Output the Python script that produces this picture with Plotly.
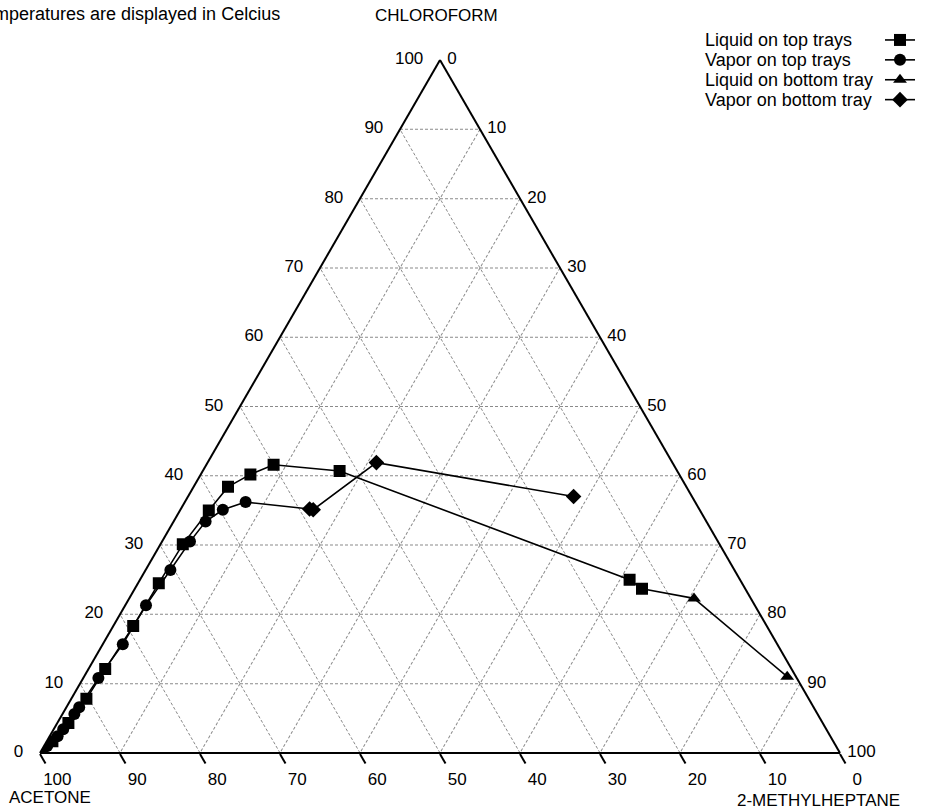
import plotly.graph_objects as go

# Compositions in percent: a = CHLOROFORM (top), b = ACETONE (bottom-left), c = 2-METHYLHEPTANE (bottom-right)
liq_top_chloroform = [0.2, 1.7, 4.3, 7.8, 12.1, 18.3, 24.5, 30.1, 35.0, 38.4, 40.2, 41.6, 40.7, 25.0, 23.7]
liq_top_acetone = [99.7, 97.6, 94.3, 90.3, 85.8, 79.2, 72.9, 67.1, 61.4, 57.3, 53.6, 50.0, 42.2, 13.8, 12.9]
liq_top_methylheptane = [0.1, 0.7, 1.4, 1.9, 2.1, 2.5, 2.6, 2.8, 3.6, 4.3, 6.2, 8.4, 17.1, 61.2, 63.4]

vap_top_chloroform = [0.2, 1.0, 2.4, 3.4, 5.6, 6.6, 10.8, 15.7, 21.3, 26.4, 30.5, 33.4, 35.1, 36.2]
vap_top_acetone = [99.6, 98.6, 96.6, 95.4, 92.9, 91.8, 87.3, 81.8, 76.1, 70.5, 66.0, 62.6, 59.6, 56.2]
vap_top_methylheptane = [0.2, 0.4, 1.0, 1.2, 1.5, 1.6, 1.9, 2.5, 2.6, 3.1, 3.5, 4.0, 5.3, 7.6]

liq_bot_chloroform = [22.3, 11.0]
liq_bot_acetone = [7.1, 1.1]
liq_bot_methylheptane = [70.6, 87.9]

vap_bot_chloroform = [35.2, 35.1, 41.9, 37.0]
vap_bot_acetone = [48.7, 48.3, 37.0, 14.8]
vap_bot_methylheptane = [16.1, 16.6, 21.1, 48.2]

series_names = ["Liquid on top trays", "Vapor on top trays",
                "Liquid on bottom tray", "Vapor on bottom tray"]
tick_vals = [0, 10, 20, 30, 40, 50, 60, 70, 80, 90, 100]
tick_text = [str(v) for v in tick_vals]
title_a = "CHLOROFORM"
title_b = "ACETONE"
title_c = "2-METHYLHEPTANE"
note_text = "Temperatures are displayed in Celcius"

W, H = 928, 811
ML, MR, MT, MB = 40, 88, 60, 58
PW, PH = W - ML - MR, H - MT - MB


def px(x):
    return (x - ML) / PW


def py(y):
    return (H - MB - y) / PH


FONT = "Liberation Sans, Arial, sans-serif"
LINE = dict(color="black", width=1.6)
NB = "\u00a0"

fig = go.Figure()

# connectors between top-tray and bottom-tray series
fig.add_trace(go.Scatterternary(
    a=[liq_top_chloroform[-1], liq_bot_chloroform[0]],
    b=[liq_top_acetone[-1], liq_bot_acetone[0]],
    c=[liq_top_methylheptane[-1], liq_bot_methylheptane[0]],
    mode="lines", line=LINE, showlegend=False, hoverinfo="skip"))
fig.add_trace(go.Scatterternary(
    a=[vap_top_chloroform[-1], vap_bot_chloroform[0]],
    b=[vap_top_acetone[-1], vap_bot_acetone[0]],
    c=[vap_top_methylheptane[-1], vap_bot_methylheptane[0]],
    mode="lines", line=LINE, showlegend=False, hoverinfo="skip"))

specs = [
    (liq_top_chloroform, liq_top_acetone, liq_top_methylheptane, "square", 12),
    (vap_top_chloroform, vap_top_acetone, vap_top_methylheptane, "circle", 12),
    (liq_bot_chloroform, liq_bot_acetone, liq_bot_methylheptane, "triangle-up", 12),
    (vap_bot_chloroform, vap_bot_acetone, vap_bot_methylheptane, "diamond", 12),
]
for (a, b, c, sym, size), name in zip(specs, series_names):
    # legend entry shows only the symbol; its label is drawn to the left as text
    fig.add_trace(go.Scatterternary(
        a=a, b=b, c=c, name=" ", mode="lines+markers", meta=name,
        hovertemplate="%{meta}<br>Chloroform %{a}<br>Acetone %{b}<br>2-Methylheptane %{c}<extra></extra>",
        line=LINE, marker=dict(symbol=sym, size=size, color="black"),
    ))

axis_common = dict(
    min=0, tickmode="array", tickvals=tick_vals,
    title=dict(text=""),
    showline=True, linecolor="black", linewidth=2,
    showgrid=True, gridcolor="#8a8a8a", gridwidth=1, griddash="3px,2px",
    tickfont=dict(family=FONT, size=17, color="black"),
    layer="below traces",
)

fig.update_layout(
    width=W, height=H,
    margin=dict(l=ML, r=MR, t=MT, b=MB, autoexpand=False),
    paper_bgcolor="white",
    font=dict(family=FONT, size=17, color="black"),
    ternary=dict(
        sum=100,
        bgcolor="white",
        aaxis=dict(axis_common, ticktext=[t + NB * 3 for t in tick_text], ticks=""),
        baxis=dict(axis_common, ticktext=[NB * 5 + t for t in tick_text], ticks="outside",
                   ticklen=11, tickwidth=1.5, tickcolor="black"),
        caxis=dict(axis_common, ticktext=[NB + t for t in tick_text], ticks=""),
    ),
    showlegend=True,
    legend=dict(
        x=px(880), y=py(25), xanchor="left", yanchor="top",
        bgcolor="rgba(0,0,0,0)", font=dict(family=FONT, size=13, color="black"),
        tracegroupgap=0, itemwidth=30,
    ),
)

annotations = []
legend_rows_y = [40, 60, 80, 100]
for name, yy in zip(series_names, legend_rows_y):
    annotations.append(dict(
        x=px(703), y=py(yy), xref="paper", yref="paper", text=name,
        showarrow=False, xanchor="left", yanchor="middle",
        font=dict(family=FONT, size=18, color="black")))

annotations.append(dict(x=px(282), y=py(14), xref="paper", yref="paper", text=note_text,
                        showarrow=False, xanchor="right", yanchor="middle",
                        font=dict(family=FONT, size=18, color="black")))
annotations.append(dict(x=px(436), y=py(15), xref="paper", yref="paper", text=title_a,
                        showarrow=False, xanchor="center", yanchor="middle",
                        font=dict(family=FONT, size=17, color="black")))
annotations.append(dict(x=px(50), y=py(797), xref="paper", yref="paper", text=title_b,
                        showarrow=False, xanchor="center", yanchor="middle",
                        font=dict(family=FONT, size=17, color="black")))
annotations.append(dict(x=px(818), y=py(800), xref="paper", yref="paper", text=title_c,
                        showarrow=False, xanchor="center", yanchor="middle",
                        font=dict(family=FONT, size=17, color="black")))
fig.update_layout(annotations=annotations)

fig.write_html("out.html")
